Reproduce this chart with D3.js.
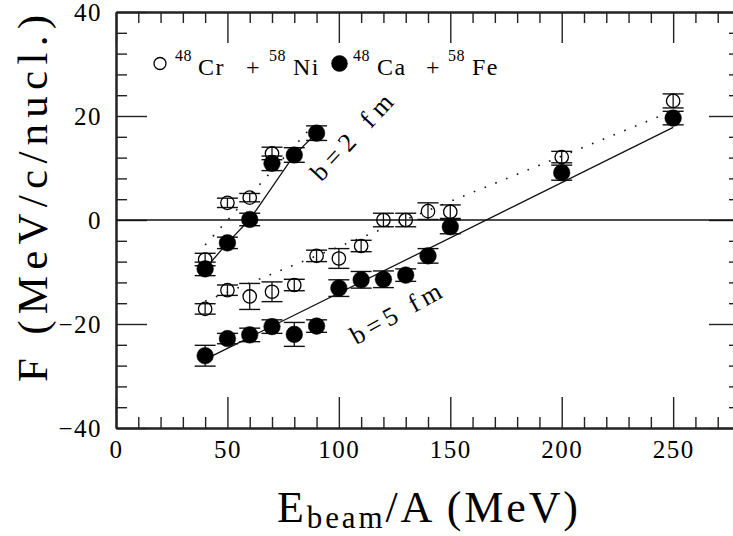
<!DOCTYPE html>
<html>
<head>
<meta charset="utf-8">
<script src="https://cdn.jsdelivr.net/npm/d3@7"></script>
<style>
  body { margin: 0; background: #fff; }
  svg { display: block; }
  text { font-family: "Liberation Serif", "DejaVu Serif", serif; fill: #000; }
</style>
</head>
<body>
<svg id="chart" width="733" height="536"></svg>
<script>
// ---- measured momentum flow F vs beam energy ----
// 48Cr + 58Ni (open) and 48Ca + 58Fe (filled), two impact parameters
const energyB2Cr = [40, 50, 60, 70];
const fB2Cr      = [-7.6, 3.3, 4.3, 12.8];
const errB2Cr    = [1.2, 0.9, 0.8, 1.2];

const energyB2Ca = [40, 50, 60, 70, 80, 90];
const fB2Ca      = [-9.4, -4.4, 0.1, 10.9, 12.5, 16.7];
const errB2Ca    = [1.3, 1.1, 1.2, 1.4, 1.4, 1.4];

const energyB5 = [40, 50, 60, 70, 80, 90, 100, 110, 120, 130, 140, 150, 200, 250];
const fB5Cr    = [-17.1, -13.5, -14.7, -13.8, -12.5, -6.9, -7.4, -5.0, 0.0, 0.0, 1.7, 1.6, 12.1, 22.9];
const errB5Cr  = [1.0, 1.0, 2.5, 1.9, 1.1, 1.1, 1.9, 1.1, 1.3, 1.3, 1.6, 1.3, 1.1, 1.35];
const fB5Ca    = [-26.1, -22.8, -22.1, -20.5, -22.0, -20.4, -13.1, -11.5, -11.4, -10.6, -6.9, -1.3, 9.1, 19.6];
const errB5Ca  = [2.0, 1.0, 1.3, 1.3, 2.3, 1.2, 1.6, 1.6, 1.6, 1.2, 1.4, 1.35, 1.45, 1.3];

// guide lines through each set
const guideB2CaE = [40, 50, 60, 80, 90];
const guideB2CaF = [-9.4, -4.4, 0.1, 12.5, 16.7];
const guideB2CrE = [40, 88];
const guideB2CrF = [-4.8, 18.0];
const guideB5CaE = [40, 250];
const guideB5CaF = [-26.8, 17.8];
const guideB5CrE = [40, 250];
const guideB5CrF = [-15.6, 21.0];

// axis ticks
const xMajor = [0, 50, 100, 150, 200, 250];
const xMinor = [10, 20, 30, 40, 60, 70, 80, 90, 110, 120, 130, 140, 160, 170, 180, 190, 210, 220, 230, 240, 260, 270];
const yMajor = [-40, -20, 0, 20, 40];
const yMinor = [-36, -32, -28, -24, -16, -12, -8, -4, 4, 8, 12, 16, 24, 28, 32, 36];

// legend pieces: [text, superscript?, x]
const legendCr = [["48", true, 175], ["Cr", false, 198], ["+", false, 246], ["58", true, 269], ["Ni", false, 293]];
const legendCa = [["48", true, 353], ["Ca", false, 377], ["+", false, 426], ["58", true, 448], ["Fe", false, 472]];

const svg = d3.select("#chart");
const L = 116, R = 740, T = 12, B = 428;
const x = d3.scaleLinear().domain([0, 280]).range([L, R]);
const y = d3.scaleLinear().domain([-40, 40]).range([B, T]);

const fmt = d => (d < 0 ? "\u2212" + Math.abs(d) : String(d));

function styleAxis(g, labels) {
  g.select(".domain").attr("stroke", "#222").attr("stroke-width", 2);
  g.selectAll(".tick line").attr("stroke", "#222").attr("stroke-width", 1.4);
  if (labels) {
    g.selectAll(".tick text")
      .attr("font-family", "Liberation Serif, serif")
      .attr("font-size", 25)
      .attr("letter-spacing", "1.5px")
      .attr("fill", "#000");
  }
}

// bottom
svg.append("g").attr("transform", `translate(0,${B})`)
  .call(d3.axisBottom(x).tickValues(xMajor).tickSize(-31).tickSizeOuter(0).tickPadding(12).tickFormat(fmt))
  .call(g => styleAxis(g, true));
svg.append("g").attr("transform", `translate(0,${B})`)
  .call(d3.axisBottom(x).tickValues(xMinor).tickSize(-11).tickSizeOuter(0).tickFormat(""))
  .call(g => styleAxis(g, false));
// top
svg.append("g").attr("transform", `translate(0,${T})`)
  .call(d3.axisTop(x).tickValues(xMajor).tickSize(-31).tickSizeOuter(0).tickFormat(""))
  .call(g => styleAxis(g, false));
svg.append("g").attr("transform", `translate(0,${T})`)
  .call(d3.axisTop(x).tickValues(xMinor).tickSize(-11).tickSizeOuter(0).tickFormat(""))
  .call(g => styleAxis(g, false));
// left
svg.append("g").attr("transform", `translate(${L},0)`)
  .call(d3.axisLeft(y).tickValues(yMajor).tickSize(-31).tickSizeOuter(0).tickPadding(14).tickFormat(fmt))
  .call(g => styleAxis(g, true));
svg.append("g").attr("transform", `translate(${L},0)`)
  .call(d3.axisLeft(y).tickValues(yMinor).tickSize(-11).tickSizeOuter(0).tickFormat(""))
  .call(g => styleAxis(g, false));
// right
svg.append("g").attr("transform", `translate(${R},0)`)
  .call(d3.axisRight(y).tickValues(yMajor).tickSize(-31).tickSizeOuter(0).tickFormat(""))
  .call(g => styleAxis(g, false));
svg.append("g").attr("transform", `translate(${R},0)`)
  .call(d3.axisRight(y).tickValues(yMinor).tickSize(-11).tickSizeOuter(0).tickFormat(""))
  .call(g => styleAxis(g, false));

// F = 0 reference line
svg.append("line")
  .attr("x1", x(0)).attr("x2", x(280)).attr("y1", y(0)).attr("y2", y(0))
  .attr("stroke", "#111").attr("stroke-width", 1.4);

// guide lines
const lineGen = d3.line().x(d => x(d[0])).y(d => y(d[1]));
function guide(es, fs, dotted) {
  svg.append("path")
    .attr("d", lineGen(d3.zip(es, fs)))
    .attr("fill", "none")
    .attr("stroke", "#111")
    .attr("stroke-width", dotted ? 1.6 : 1.3)
    .attr("stroke-dasharray", dotted ? "1.6,10" : null);
}
guide(guideB2CaE, guideB2CaF, false);
guide(guideB5CaE, guideB5CaF, false);
guide(guideB2CrE, guideB2CrF, true);
guide(guideB5CrE, guideB5CrF, true);

// error bars + markers
const capHalf = 10.5;
function series(es, fs, errs, filled) {
  const pts = d3.zip(es, fs, errs);
  const g = svg.append("g");
  const eb = g.selectAll("g.eb").data(pts).join("g").attr("class", "eb");
  eb.append("line")
    .attr("x1", d => x(d[0])).attr("x2", d => x(d[0]))
    .attr("y1", d => y(d[1] - d[2])).attr("y2", d => y(d[1] + d[2]))
    .attr("stroke", "#111").attr("stroke-width", 1.3);
  eb.append("line")
    .attr("x1", d => x(d[0]) - capHalf).attr("x2", d => x(d[0]) + capHalf)
    .attr("y1", d => y(d[1] + d[2])).attr("y2", d => y(d[1] + d[2]))
    .attr("stroke", "#111").attr("stroke-width", 1.4);
  eb.append("line")
    .attr("x1", d => x(d[0]) - capHalf).attr("x2", d => x(d[0]) + capHalf)
    .attr("y1", d => y(d[1] - d[2])).attr("y2", d => y(d[1] - d[2]))
    .attr("stroke", "#111").attr("stroke-width", 1.4);
  g.selectAll("circle").data(pts).join("circle")
    .attr("cx", d => x(d[0])).attr("cy", d => y(d[1]))
    .attr("r", filled ? 8.3 : 6.7)
    .attr("fill", filled ? "#000" : "none")
    .attr("stroke", "#000")
    .attr("stroke-width", filled ? 0.5 : 1.3);
}
series(energyB2Cr, fB2Cr, errB2Cr, false);
series(energyB5, fB5Cr, errB5Cr, false);
series(energyB2Ca, fB2Ca, errB2Ca, true);
series(energyB5, fB5Ca, errB5Ca, true);

// legend
function legendEntry(cx, filled, parts) {
  svg.append("circle").attr("cx", cx).attr("cy", 63.5)
    .attr("r", filled ? 8 : 6)
    .attr("fill", filled ? "#000" : "none")
    .attr("stroke", "#000").attr("stroke-width", filled ? 0.5 : 1.3);
  svg.append("g").selectAll("text").data(parts).join("text")
    .attr("x", d => d[2])
    .attr("y", d => d[1] ? 61 : 75)
    .attr("font-size", d => d[1] ? 16 : 24)
    .attr("letter-spacing", d => d[1] ? "0.5px" : "1.5px")
    .text(d => d[0]);
}
legendEntry(160, false, legendCr);
legendEntry(339.5, true, legendCa);

// impact-parameter labels
svg.append("text").attr("transform", "translate(358,143) rotate(-47)")
  .attr("text-anchor", "middle").attr("font-size", 26)
  .attr("textLength", 108).attr("lengthAdjust", "spacing")
  .text("b=2 fm");
svg.append("text").attr("transform", "translate(400,321) rotate(-29)")
  .attr("text-anchor", "middle").attr("font-size", 26)
  .attr("textLength", 100).attr("lengthAdjust", "spacing")
  .text("b=5 fm");

// axis titles
const xt = svg.append("text").attr("x", 277).attr("y", 522)
  .attr("textLength", 301).attr("lengthAdjust", "spacing");
xt.append("tspan").attr("font-size", 44).text("E");
xt.append("tspan").attr("font-size", 31).attr("dy", 6).text("beam");
xt.append("tspan").attr("font-size", 44).attr("dy", -6).text("/A (MeV)");

svg.append("text")
  .attr("transform", "translate(47,382) rotate(-90)")
  .attr("font-size", 43)
  .attr("textLength", 367).attr("lengthAdjust", "spacing")
  .text("F (MeV/c/nucl.)");
</script>
</body>
</html>
